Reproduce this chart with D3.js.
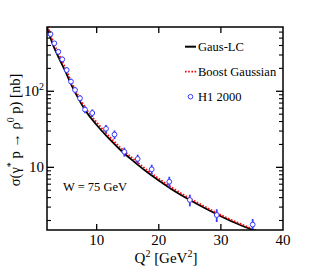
<!DOCTYPE html>
<html><head><meta charset="utf-8">
<script src="https://cdn.jsdelivr.net/npm/d3@7"></script>
<style>body{margin:0;background:#fff}svg{display:block}text{font-family:"Liberation Serif","DejaVu Serif",serif;fill:#000}</style>
</head><body><svg id="c" width="315" height="272"></svg>
<script>
// Gaus-LC curve (black solid)
const gausQ2 = [2,3,4,5,6,7,8,10,12,14,16,18,20,22,25,28,31,34,36];
const gausSigma = [700,400,265,180,118,82,59,36,23.8,16.4,11.9,8.8,6.7,5.2,3.72,2.75,2.08,1.63,1.40];
// Boost Gaussian curve (red dotted)
const boostQ2 = [2,3,4,5,6,7,8,10,12,14,16,18,20,22,25,28,31,34,36];
const boostSigma = [780,450,295,198,130,89,64,39,25.6,17.6,12.7,9.35,7.1,5.5,3.9,2.87,2.16,1.69,1.45];
// H1 2000 data
const h1Q2 = [2.56,3.18,3.82,4.46,5.17,5.86,6.51,7.31,8.12,9.29,11.5,12.87,14.45,16.6,18.86,21.69,25.0,29.33,35.12];
const h1Sigma = [566,427,331,263,190,134,104,81,57.5,51.8,32.1,27.0,16.0,12.9,9.42,6.47,3.72,2.36,1.77];
const h1Err = [40,30,25,22,17,12,10,8,6,6,4,3.5,2.2,1.8,1.4,1.05,0.65,0.45,0.32];
const xTicks = [10,20,30,40];
const yMajor = [10,100];
const yMinor = [2,3,4,5,6,7,8,9,20,30,40,50,60,70,80,90,200,300,400,500,600];
const legendLabels = ["Gaus-LC","Boost Gaussian","H1 2000"];

const L=47,R=283,T=27,B=230;
const svg=d3.select("#c");
const x=d3.scaleLinear().domain([2,40]).range([L,R]);
const y=d3.scaleLog().domain([1.5,700]).range([B,T]);

svg.append("clipPath").attr("id","clip").append("rect").attr("x",L).attr("y",T).attr("width",R-L).attr("height",B-T);

const line=d3.line().x(d=>x(d[0])).y(d=>y(d[1])).curve(d3.curveMonotoneX);
const g=svg.append("g").attr("clip-path","url(#clip)");
g.append("path").attr("d",line(gausQ2.map((q,i)=>[q,gausSigma[i]]))).attr("fill","none").attr("stroke","#000").attr("stroke-width",1.8);
g.append("path").attr("d",line(boostQ2.map((q,i)=>[q,boostSigma[i]]))).attr("fill","none").attr("stroke","#ff0000").attr("stroke-width",1.8).attr("stroke-dasharray","1.6,1.6");

const blue="#3b3bff";
h1Q2.forEach((q,i)=>{
  g.append("line").attr("x1",x(q)).attr("x2",x(q)).attr("y1",y(h1Sigma[i]-h1Err[i])).attr("y2",y(h1Sigma[i]+h1Err[i])).attr("stroke",blue).attr("stroke-width",1.8);
});
h1Q2.forEach((q,i)=>{
  g.append("circle").attr("cx",x(q)).attr("cy",y(h1Sigma[i])).attr("r",2.4).attr("fill","#fff").attr("stroke",blue).attr("stroke-width",1);
});

// frame
svg.append("rect").attr("x",L).attr("y",T).attr("width",R-L).attr("height",B-T).attr("fill","none").attr("stroke","#000").attr("stroke-width",1.5);

// x ticks
xTicks.forEach(t=>{
  if(t<40){
    svg.append("line").attr("x1",x(t)).attr("x2",x(t)).attr("y1",B).attr("y2",B-6).attr("stroke","#000").attr("stroke-width",1.3);
    svg.append("line").attr("x1",x(t)).attr("x2",x(t)).attr("y1",T).attr("y2",T+6).attr("stroke","#000").attr("stroke-width",1.3);
  }
  svg.append("text").attr("x",x(t)).attr("y",245).attr("text-anchor","middle").attr("font-size",15).text(t);
});
// y ticks
yMajor.forEach(t=>{
  svg.append("line").attr("x1",L).attr("x2",L+7).attr("y1",y(t)).attr("y2",y(t)).attr("stroke","#000").attr("stroke-width",1.3);
  svg.append("line").attr("x1",R).attr("x2",R-7).attr("y1",y(t)).attr("y2",y(t)).attr("stroke","#000").attr("stroke-width",1.3);
});
yMinor.forEach(t=>{
  svg.append("line").attr("x1",L).attr("x2",L+4).attr("y1",y(t)).attr("y2",y(t)).attr("stroke","#000").attr("stroke-width",1.1);
  svg.append("line").attr("x1",R).attr("x2",R-4).attr("y1",y(t)).attr("y2",y(t)).attr("stroke","#000").attr("stroke-width",1.1);
});
// y labels
const t10=svg.append("text").attr("x",44).attr("y",y(10)+5).attr("text-anchor","end").attr("font-size",15).text("10");
const t100=svg.append("text").attr("x",44).attr("y",y(100)+5).attr("text-anchor","end").attr("font-size",15);
t100.append("tspan").text("10");
t100.append("tspan").attr("font-size",10).attr("dy",-6).text("2");

// axis titles
const xt=svg.append("text").attr("x",166).attr("y",263).attr("text-anchor","middle").attr("font-size",15);
xt.append("tspan").text("Q");
xt.append("tspan").attr("font-size",10).attr("dy",-6).text("2");
xt.append("tspan").attr("dy",6).text(" [GeV");
xt.append("tspan").attr("font-size",10).attr("dy",-6).text("2");
xt.append("tspan").attr("dy",6).text("]");

const yt=svg.append("text").attr("transform","translate(20,130) rotate(-90)").attr("text-anchor","middle").attr("font-size",14.5);
yt.append("tspan").text("σ(γ");
yt.append("tspan").attr("font-size",10).attr("dy",-6).text("*");
yt.append("tspan").attr("dy",6).text(" p → ρ");
yt.append("tspan").attr("font-size",10).attr("dy",-6).text("0");
yt.append("tspan").attr("dy",6).text(" p) [nb]");

// W label
svg.append("text").attr("x",63).attr("y",191).attr("font-size",12.5).text("W = 75 GeV");

// legend
const ly=[46.7,71.7,96.7];
svg.append("line").attr("x1",185).attr("x2",196).attr("y1",ly[0]).attr("y2",ly[0]).attr("stroke","#000").attr("stroke-width",2);
svg.append("line").attr("x1",185).attr("x2",197).attr("y1",ly[1]).attr("y2",ly[1]).attr("stroke","#ff0000").attr("stroke-width",1.8).attr("stroke-dasharray","1.6,1.6");
svg.append("circle").attr("cx",190.5).attr("cy",ly[2]).attr("r",2.3).attr("fill","#fff").attr("stroke",blue).attr("stroke-width",1);
legendLabels.forEach((s,i)=>{
  svg.append("text").attr("x",198).attr("y",ly[i]+4.3).attr("font-size",12.5).text(s);
});
</script></body></html>
